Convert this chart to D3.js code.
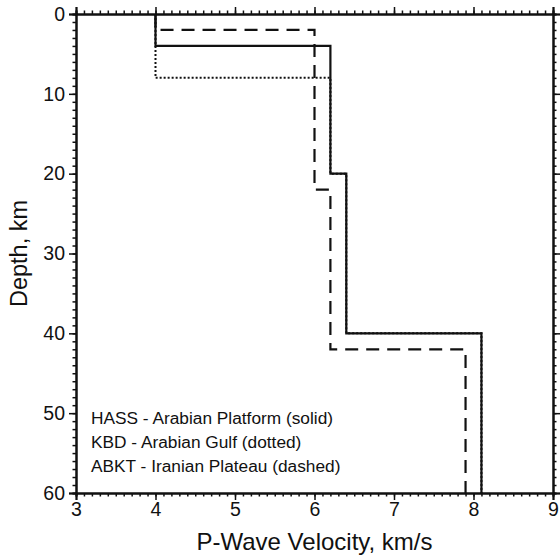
<!DOCTYPE html>
<html>
<head>
<meta charset="utf-8">
<script src="https://cdn.jsdelivr.net/npm/d3@7"></script>
<style>
  body { margin: 0; background: #fff; }
  text { font-family: "Liberation Sans", Arial, Helvetica, sans-serif; fill: #111; }
</style>
</head>
<body>
<script>
// velocity models: layer tops (km) and P velocity (km/s)
const hassTop = [0, 4, 20, 40]
const hassVel = [4.0, 6.2, 6.4, 8.1]
const kbdTop = [0, 8, 20, 40]
const kbdVel = [4.0, 6.2, 6.4, 8.1]
const abktTop = [0, 2, 22, 42]
const abktVel = [4.0, 6.0, 6.2, 7.9]
const maxDepth = 60

const legendLines = [
  "HASS - Arabian Platform (solid)",
  "KBD - Arabian Gulf (dotted)",
  "ABKT - Iranian Plateau (dashed)"
]

const margin = { top: 14, right: 7, bottom: 63, left: 76 },
  width = 560 - margin.left - margin.right,
  height = 556 - margin.top - margin.bottom

const svg = d3.select("body")
  .append("svg")
    .attr("width", 560)
    .attr("height", 556)

const g = svg.append("g")
  .attr("transform", "translate(" + margin.left + "," + margin.top + ")")

const x = d3.scaleLinear().domain([3, 9]).range([0, width])
const y = d3.scaleLinear().domain([0, maxDepth]).range([0, height])

// minor ticks first (no labels)
const minorX = d3.range(30, 91).map(d => d / 10)
const minorY = d3.range(0, 61)
const minorLen = 3.5

g.append("g").attr("class", "minor")
  .call(d3.axisTop(x).tickValues(minorX).tickSize(minorLen).tickFormat(""))
g.append("g").attr("class", "minor")
  .attr("transform", "translate(0," + height + ")")
  .call(d3.axisBottom(x).tickValues(minorX).tickSize(minorLen).tickFormat(""))
g.append("g").attr("class", "minor")
  .call(d3.axisLeft(y).tickValues(minorY).tickSize(minorLen).tickFormat(""))
g.append("g").attr("class", "minor")
  .attr("transform", "translate(" + width + ",0)")
  .call(d3.axisRight(y).tickValues(minorY).tickSize(minorLen).tickFormat(""))

// major ticks
g.append("g")
  .call(d3.axisTop(x).ticks(6).tickSize(7).tickFormat(""))
g.append("g")
  .attr("transform", "translate(" + width + ",0)")
  .call(d3.axisRight(y).tickValues([0, 10, 20, 30, 40, 50, 60]).tickSize(7).tickFormat(""))

const xAxis = g.append("g")
  .attr("transform", "translate(0," + height + ")")
  .call(d3.axisBottom(x).ticks(6).tickSize(7).tickPadding(2).tickFormat(d3.format("d")))
const yAxis = g.append("g")
  .call(d3.axisLeft(y).tickValues([0, 10, 20, 30, 40, 50, 60]).tickSize(7).tickPadding(4))

g.selectAll(".domain").attr("stroke", "#111").attr("stroke-width", 2)
g.selectAll(".tick line").attr("stroke", "#111").attr("stroke-width", 1.5)
xAxis.selectAll("text").style("font-size", "19.5px").attr("fill", "#111")
yAxis.selectAll("text").style("font-size", "19.5px").attr("fill", "#111")

// step profile: each layer is a vertical segment from its top to the next top
function profile(tops, vels) {
  const pts = []
  tops.forEach((t, i) => {
    const bottom = i < tops.length - 1 ? tops[i + 1] : maxDepth
    pts.push([vels[i], t], [vels[i], bottom])
  })
  return pts
}

const line = d3.line()
  .x(d => x(d[0]))
  .y(d => y(d[1]))

const models = [
  { pts: profile(kbdTop, kbdVel), dash: "2,2", w: 2 },
  { pts: profile(abktTop, abktVel), dash: "13,8", w: 2.2 },
  { pts: profile(hassTop, hassVel), dash: null, w: 2.2 }
]

g.selectAll(".model")
  .data(models)
  .enter()
  .append("path")
    .attr("class", "model")
    .attr("fill", "none")
    .attr("stroke", "#111")
    .attr("stroke-width", d => d.w)
    .attr("stroke-dasharray", d => d.dash)
    .attr("d", d => line(d.pts))

// legend text
g.selectAll(".legend")
  .data(legendLines)
  .enter()
  .append("text")
    .attr("class", "legend")
    .attr("x", 15)
    .attr("y", (d, i) => 410 + i * 24)
    .style("font-size", "17.3px")
    .text(d => d)

// axis titles
svg.append("text")
  .attr("x", margin.left + width / 2)
  .attr("y", 550)
  .attr("text-anchor", "middle")
  .style("font-size", "24px")
  .text("P-Wave Velocity, km/s")

svg.append("text")
  .attr("transform", "translate(27," + (margin.top + height / 2) + ") rotate(-90)")
  .attr("text-anchor", "middle")
  .style("font-size", "23.5px")
  .text("Depth, km")
</script>
</body>
</html>
